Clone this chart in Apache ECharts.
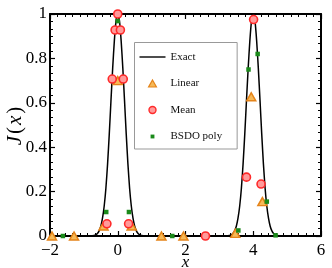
<!DOCTYPE html>
<html>
<head>
<meta charset="utf-8">
<script src="https://cdn.jsdelivr.net/npm/echarts@6/dist/echarts.min.js"></script>
<style>
html,body{margin:0;padding:0;background:#fff;}
#c{width:332px;height:268px;}
</style>
</head>
<body>
<div id="c"></div>
<script>
// Exact curve
var exactX = [-2, -1, -0.8, -0.7, -0.65, -0.6, -0.55, -0.5, -0.45, -0.4, -0.35, -0.3, -0.25, -0.2, -0.15, -0.1, -0.05, 0,
  0.05, 0.1, 0.15, 0.2, 0.25, 0.3, 0.35, 0.4, 0.45, 0.5, 0.55, 0.6, 0.65, 0.7, 0.8, 1, 2, 3, 3.2,
  3.3, 3.35, 3.4, 3.45, 3.5, 3.55, 3.6, 3.65, 3.7, 3.75, 3.8, 3.85, 3.9, 3.95, 4,
  4.05, 4.1, 4.15, 4.2, 4.25, 4.3, 4.35, 4.4, 4.45, 4.5, 4.55, 4.6, 4.65, 4.7, 4.8, 5, 6];
var exactY = [0, 0, 0, 0.002, 0.005, 0.011, 0.023, 0.044, 0.08, 0.135, 0.215, 0.325, 0.46, 0.61, 0.755, 0.88, 0.97, 1,
  0.97, 0.88, 0.755, 0.61, 0.46, 0.325, 0.215, 0.135, 0.08, 0.044, 0.023, 0.011, 0.005, 0.002, 0, 0, 0, 0, 0,
  0.002, 0.005, 0.011, 0.023, 0.044, 0.08, 0.135, 0.215, 0.325, 0.46, 0.61, 0.755, 0.88, 0.97, 1,
  0.97, 0.88, 0.755, 0.61, 0.46, 0.325, 0.215, 0.135, 0.08, 0.044, 0.023, 0.011, 0.005, 0.002, 0, 0, 0];

var linearX = [-1.94, -1.29, -0.42, 0, 0.41, 1.29, 1.94, 3.47, 3.94, 4.27];
var linearY = [0, 0, 0.045, 0.70, 0.045, 0, 0, 0.012, 0.627, 0.155];

var meanX = [-0.32, -0.163, -0.078, 0, 0.078, 0.163, 0.32, 2.59, 3.80, 4.01, 4.23];
var meanY = [0.055, 0.707, 0.928, 1.0, 0.928, 0.707, 0.055, 0, 0.265, 0.975, 0.234];

var bsdoX = [-1.62, -0.34, 0, 0.33, 1.61, 3.56, 3.86, 4.13, 4.40, 4.66];
var bsdoY = [0, 0.108, 0.968, 0.108, 0, 0.025, 0.75, 0.82, 0.155, 0.003];

var xTicks = [-2, 0, 2, 4, 6];
var yTicks = [0, 0.2, 0.4, 0.6, 0.8, 1];

var seriesNames = ['Exact', 'Linear', 'Mean', 'BSDO poly'];

function pairs(xs, ys) { return xs.map(function (x, i) { return [x, ys[i]]; }); }

var FONT = 'Liberation Serif';
var axisCommon = {
  axisLine: { show: true, onZero: false, lineStyle: { color: '#000', width: 2 } },
  axisTick: { show: true, inside: true, length: 5, lineStyle: { color: '#000', width: 1.2 } },
  splitLine: { show: false },
  nameMoveOverlap: false
};

var triColor = { color: '#f6b957', borderColor: '#e5841a', borderWidth: 1.5, opacity: 1 };
var cirColor = { color: '#ff9a9a', borderColor: '#ff2a2a', borderWidth: 1.6, opacity: 1 };
var sqColor = { color: '#1a8a1a', opacity: 1 };

var chart = echarts.init(document.getElementById('c'), null, { renderer: 'canvas' });
chart.setOption({
  animation: false,
  backgroundColor: '#fff',
  grid: { left: 50, right: 11, top: 14, bottom: 32, containLabel: false, outerBoundsMode: 'none' },
  legend: {
    data: [
      { name: seriesNames[0], icon: 'path://M0,0 H26 V1.4 H0 Z', itemStyle: { color: '#000', borderWidth: 0 } },
      { name: seriesNames[1], icon: 'path://M4.5,0 L9,8 L0,8 Z', itemStyle: { borderWidth: 1.2 } },
      { name: seriesNames[2], icon: 'path://M3.6,0 A3.6,3.6 0 1,1 3.6,7.2 A3.6,3.6 0 1,1 3.6,0 Z', itemStyle: { borderWidth: 1.4 } },
      { name: seriesNames[3], icon: 'path://M0,0 M8,8 M1.8,1.8 H6.2 V6.2 H1.8 Z' }
    ],
    orient: 'vertical',
    left: 134.5, top: 42.5,
    padding: [9, 15, 7, 5],
    itemWidth: 26, itemHeight: 7, itemGap: 15.5,
    symbolKeepAspect: true,
    borderColor: '#999', borderWidth: 1, backgroundColor: '#fff',
    textStyle: { fontFamily: FONT, fontSize: 11, color: '#111' },
    selectedMode: false
  },
  xAxis: [
    Object.assign({}, axisCommon, {
      type: 'value', min: -2, max: 6, interval: 2, position: 'bottom',
      minorTick: { show: true, splitNumber: 9, length: 3, lineStyle: { color: '#000', width: 1 } },
      axisLabel: {
        fontFamily: FONT, fontSize: 17, color: '#000', margin: 6,
        formatter: function (v) { return xTicks.indexOf(v) >= 0 ? String(v).replace('-', '\u2212') : ''; }
      },
      name: 'x', nameLocation: 'middle', nameGap: 18,
      nameTextStyle: { fontFamily: FONT, fontStyle: 'italic', fontSize: 17, color: '#000' }
    }),
    Object.assign({}, axisCommon, {
      type: 'value', min: -2, max: 6, interval: 2, position: 'top',
      minorTick: { show: true, splitNumber: 9, length: 3, lineStyle: { color: '#000', width: 1 } },
      axisLabel: { show: false }
    })
  ],
  yAxis: [
    Object.assign({}, axisCommon, {
      type: 'value', min: 0, max: 1, interval: 0.2, position: 'left',
      minorTick: { show: true, splitNumber: 6, length: 3, lineStyle: { color: '#000', width: 1 } },
      axisLabel: {
        fontFamily: FONT, fontSize: 17, color: '#000', margin: 3,
        formatter: function (v) { return String(v); }
      },
      name: '{i|J}{n|(}{i|x}{n|)}', nameLocation: 'middle', nameGap: 24, nameRotate: 90,
      nameTextStyle: {
        color: '#000',
        rich: {
          i: { fontFamily: FONT, fontStyle: 'italic', fontSize: 21, color: '#000' },
          n: { fontFamily: FONT, fontSize: 21, color: '#000', padding: [0, 2, 0, 2] }
        }
      }
    }),
    Object.assign({}, axisCommon, {
      type: 'value', min: 0, max: 1, interval: 0.2, position: 'right',
      minorTick: { show: true, splitNumber: 6, length: 3, lineStyle: { color: '#000', width: 1 } },
      axisLabel: { show: false }
    })
  ],
  series: [
    {
      name: seriesNames[0], type: 'line', xAxisIndex: 0, yAxisIndex: 0,
      data: pairs(exactX, exactY), showSymbol: false, smooth: 0.2,
      lineStyle: { color: '#000', width: 1.5 }, itemStyle: { color: '#000' }, z: 2
    },
    {
      name: seriesNames[1], type: 'scatter', data: pairs(linearX, linearY),
      symbol: 'triangle', symbolSize: [9, 8],
      itemStyle: triColor, z: 3
    },
    {
      name: seriesNames[2], type: 'scatter', data: pairs(meanX, meanY),
      symbol: 'circle', symbolSize: 8,
      itemStyle: cirColor, z: 4
    },
    {
      name: seriesNames[3], type: 'scatter', data: pairs(bsdoX, bsdoY),
      symbol: 'rect', symbolSize: 4.5,
      itemStyle: sqColor, z: 5
    }
  ]
});
</script>
</body>
</html>
